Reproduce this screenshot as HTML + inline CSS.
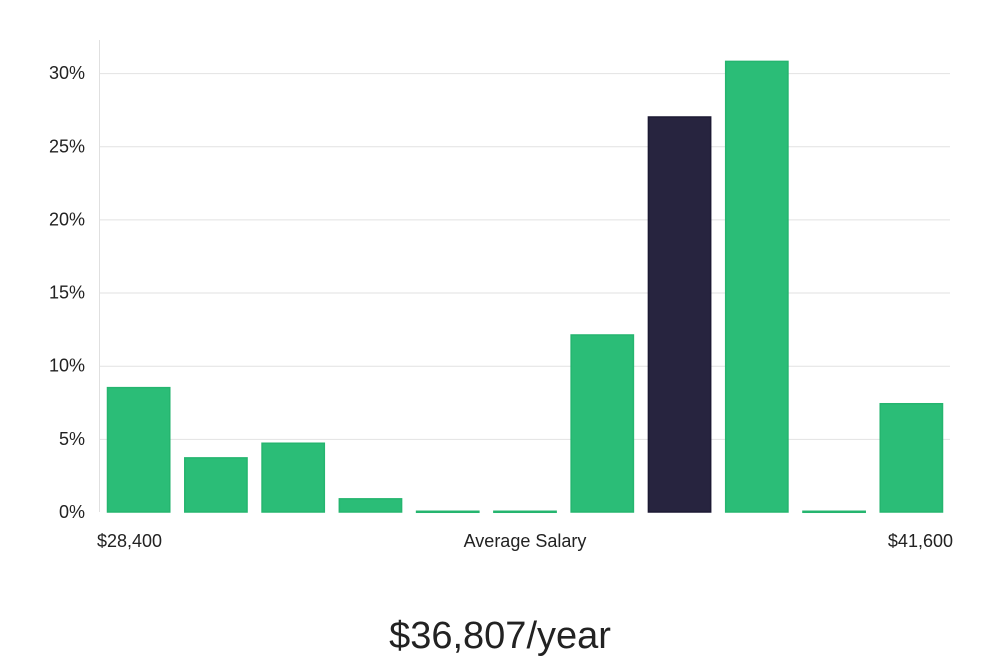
<!DOCTYPE html>
<html><head><meta charset="utf-8"><style>
html,body{margin:0;padding:0;background:#fff;width:1000px;height:660px;overflow:hidden}
svg{display:block;font-family:"Liberation Sans","DejaVu Sans",sans-serif}
</style></head><body>
<svg id="chart" width="1000" height="660">
<g id="grid"></g><g id="bars"></g><g id="labels"></g>
<line x1="99.5" y1="40" x2="99.5" y2="512" stroke="#e0e0e0" stroke-width="1"/>
<text x="97" y="547" font-size="18" fill="#222">$28,400</text>
<text x="525" y="547" font-size="18" fill="#222" text-anchor="middle">Average Salary</text>
<text x="953" y="547" font-size="18" fill="#222" text-anchor="end">$41,600</text>
<text x="500" y="648" font-size="38" fill="#222" text-anchor="middle" font-weight="300">$36,807/year</text>
</svg>
<script>
const values = [8.5, 3.7, 4.7, 0.9, 0.05, 0.05, 12.1, 27.0, 30.8, 0.05, 7.4];
const highlightIndex = 7;
const yTicks = [0, 5, 10, 15, 20, 25, 30];
const yTickLabels = ["0%", "5%", "10%", "15%", "20%", "25%", "30%"];

const NS = "http://www.w3.org/2000/svg";
const x0 = 100, x1 = 950, y0 = 512, pxPerPct = 14.63;
const y = v => y0 - v * pxPerPct;
const slot = (x1 - x0) / values.length;
const grid = document.getElementById('grid');
const bars = document.getElementById('bars');
const labels = document.getElementById('labels');
yTicks.forEach((t, i) => {
  if (t > 0) {
    const l = document.createElementNS(NS, 'line');
    l.setAttribute('x1', x0); l.setAttribute('x2', x1);
    l.setAttribute('y1', y(t) + 0.5); l.setAttribute('y2', y(t) + 0.5);
    l.setAttribute('stroke', '#e2e2e2');
    
    
    grid.appendChild(l);
  }
  const tx = document.createElementNS(NS, 'text');
  tx.setAttribute('x', 85); tx.setAttribute('y', y(t) + 6);
  tx.setAttribute('text-anchor', 'end'); tx.setAttribute('font-size', '18'); tx.setAttribute('fill', '#222');
  tx.textContent = yTickLabels[i];
  
  
  labels.appendChild(tx);
});
values.forEach((v, i) => {
  const r = document.createElementNS(NS, 'rect');
  const dark = i === highlightIndex;
  r.setAttribute('x', x0 + i * slot + 7.5);
  r.setAttribute('width', slot - 15);
  r.setAttribute('y', y(v));
  r.setAttribute('height', Math.max(1, y0 - y(v)));
  r.setAttribute('fill', dark ? '#27243f' : '#2bbd77');
  r.setAttribute('stroke', dark ? '#1c1933' : '#25b56f');
  r.setAttribute('stroke-width', '1.5');
  
  
  bars.appendChild(r);
});
</script>
</body></html>
